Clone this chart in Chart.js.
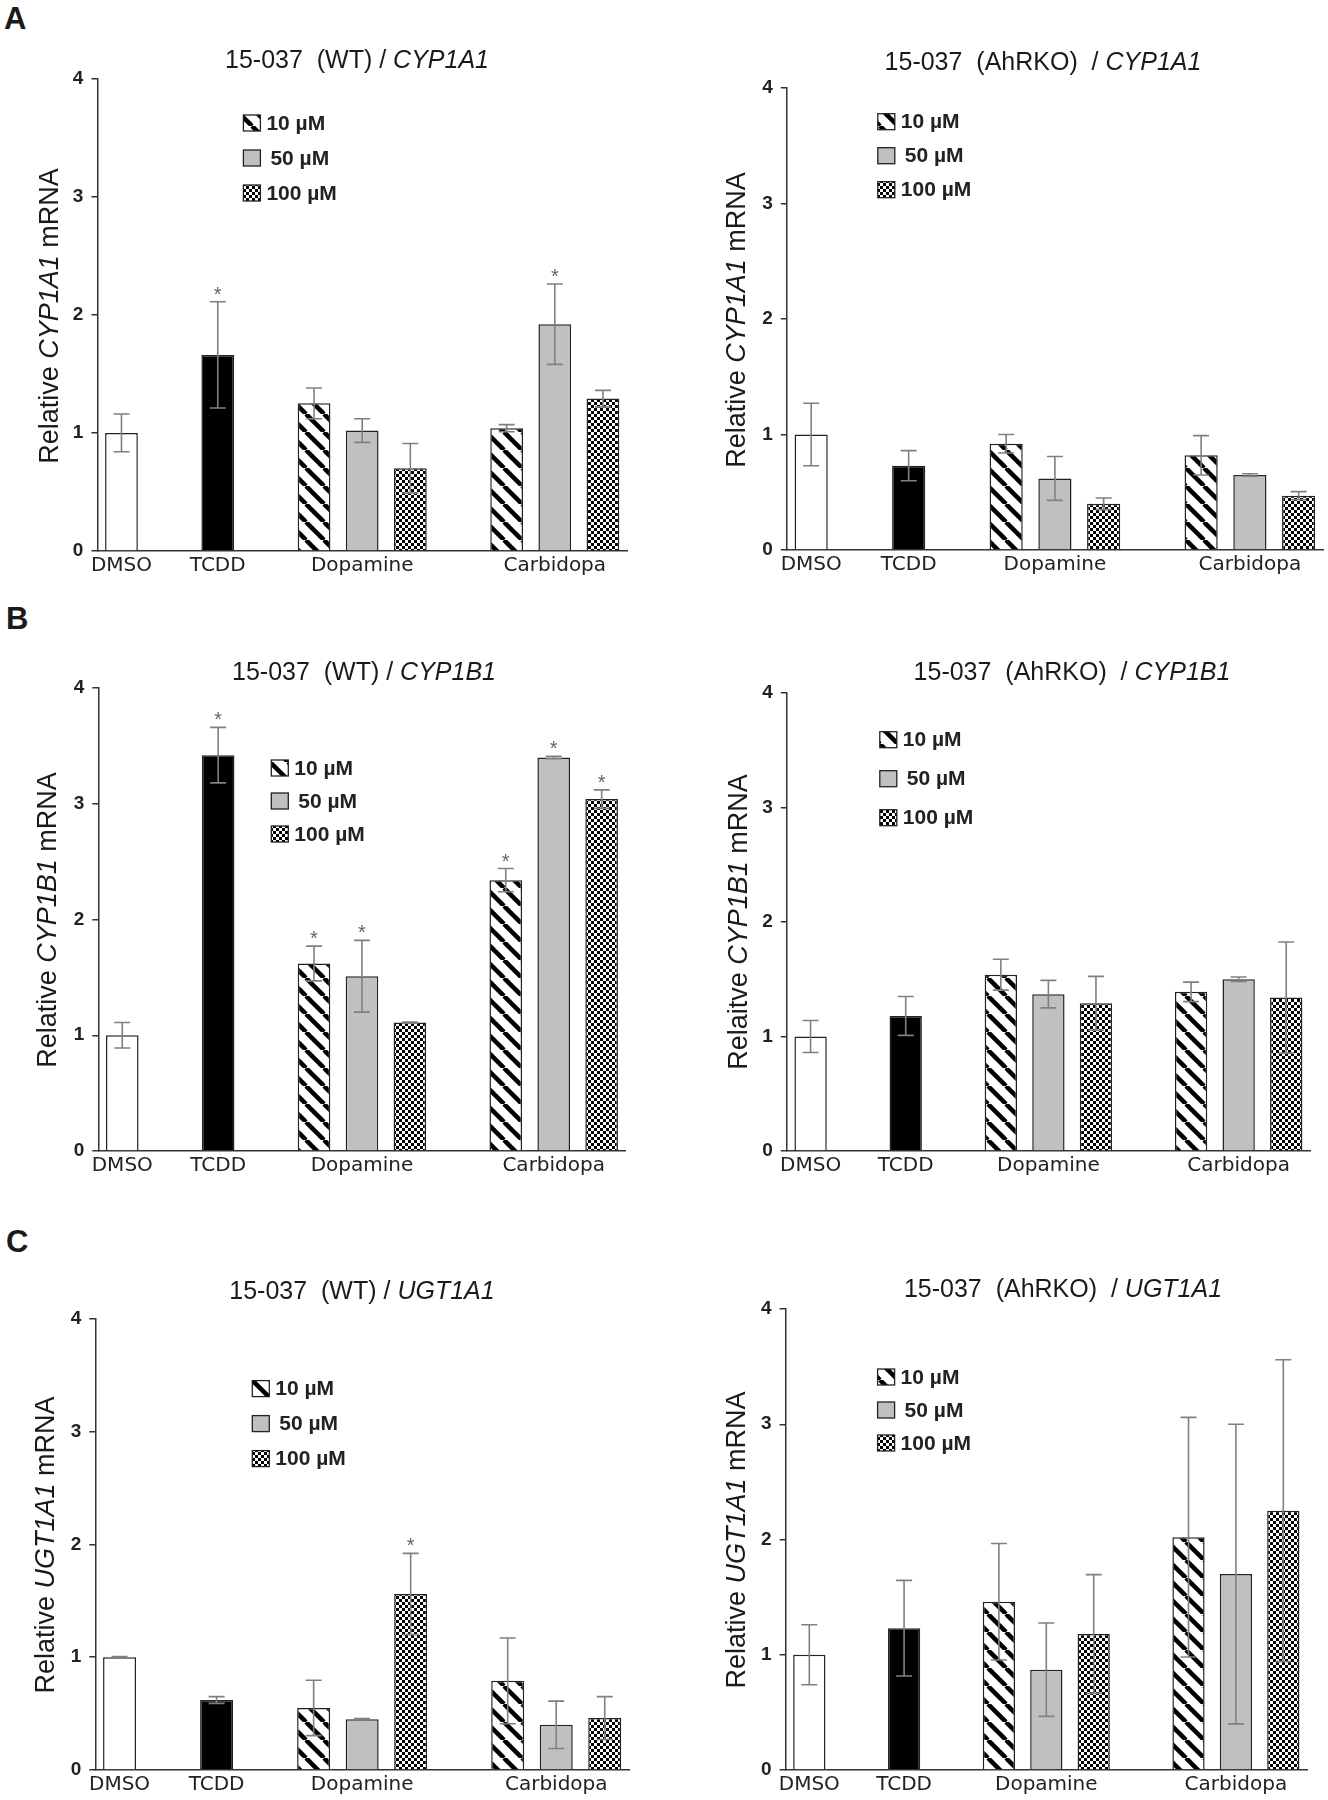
<!DOCTYPE html>
<html><head><meta charset="utf-8">
<script src="https://cdn.jsdelivr.net/npm/chart.js@4.4.1/dist/chart.umd.min.js"></script>
<style>
body{margin:0;background:#fff;}
#fig{position:relative;width:1328px;height:1800px;background:#fff;font-family:Arial,"Liberation Sans",sans-serif;color:#1a1a1a;overflow:hidden}
#fig canvas{position:absolute}
.t{position:absolute;white-space:pre;text-align:center;font-size:25px;line-height:28px;width:600px}
.yt{position:absolute;white-space:pre;text-align:center;font-size:27px;line-height:30px;width:400px;height:30px;transform:rotate(-90deg)}
.pl{position:absolute;font-weight:bold;font-size:31px;line-height:32px}
</style></head><body><div id="fig"></div>
<script>
// ---------------- data ----------------
const groupLabels = ['DMSO', 'TCDD', 'Dopamine', 'Carbidopa'];
const doseLabels = ['10 µM', '50 µM', '100 µM'];
const yTickValues = [0, 1, 2, 3, 4];
// bar order: DMSO, TCDD, Dopamine 10/50/100 µM, Carbidopa 10/50/100 µM
const wtCYP1A1Mean = [1.00, 1.66, 1.25, 1.02, 0.70, 1.04, 1.92, 1.29];
const wtCYP1A1Err  = [0.16, 0.45, 0.13, 0.10, 0.21, 0.03, 0.34, 0.07];
const wtCYP1A1Star = [0, 1, 0, 0, 0, 0, 1, 0];

const koCYP1A1Mean = [1.00, 0.73, 0.92, 0.62, 0.40, 0.82, 0.65, 0.47];
const koCYP1A1Err  = [0.27, 0.13, 0.08, 0.19, 0.05, 0.17, 0.01, 0.035];
const koCYP1A1Star = [0, 0, 0, 0, 0, 0, 0, 0];

const wtCYP1B1Mean = [1.00, 3.42, 1.62, 1.51, 1.11, 2.34, 3.40, 3.04];
const wtCYP1B1Err  = [0.11, 0.24, 0.15, 0.31, 0.005, 0.10, 0.01, 0.08];
const wtCYP1B1Star = [0, 1, 1, 1, 0, 1, 1, 1];

const koCYP1B1Mean = [1.00, 1.18, 1.54, 1.37, 1.29, 1.39, 1.50, 1.34];
const koCYP1B1Err  = [0.14, 0.17, 0.135, 0.12, 0.235, 0.085, 0.02, 0.485];
const koCYP1B1Star = [0, 0, 0, 0, 0, 0, 0, 0];

const wtUGT1A1Mean = [1.00, 0.62, 0.55, 0.45, 1.56, 0.79, 0.40, 0.46];
const wtUGT1A1Err  = [0.005, 0.03, 0.245, 0.005, 0.36, 0.38, 0.21, 0.19];
const wtUGT1A1Star = [0, 0, 0, 0, 1, 0, 0, 0];

const koUGT1A1Mean = [1.00, 1.23, 1.46, 0.87, 1.18, 2.02, 1.70, 2.25];
const koUGT1A1Err  = [0.26, 0.415, 0.505, 0.405, 0.515, 1.04, 1.30, 1.31];
const koUGT1A1Star = [0, 0, 0, 0, 0, 0, 0, 0];

// ---------------- layout ----------------
const SLOT_COUNT = 11;
const barSlots = [0, 2, 4, 5, 6, 8, 9, 10];
const labelSlots = [0, 2, 5, 9];
const xLabels = Array.from({length: SLOT_COUNT}, (_, i) => {
  const k = labelSlots.indexOf(i);
  return k >= 0 ? groupLabels[k] : '';
});

function makePattern(kind) {
  const c = document.createElement('canvas');
  const g = c.getContext('2d');
  if (kind === 'hatch') {
    const s = 18;
    c.width = s; c.height = s;
    g.fillStyle = '#fff'; g.fillRect(0, 0, s, s);
    g.strokeStyle = '#000'; g.lineWidth = 4.5;
    for (const x0 of [-s, 0, s]) {
      g.beginPath(); g.moveTo(x0, 0); g.lineTo(x0 + s, s); g.stroke();
    }
  } else if (kind === 'gray') {
    c.width = 4; c.height = 4;
    g.fillStyle = '#c0c0c0'; g.fillRect(0, 0, 4, 4);
  } else {
    const q = 3;
    c.width = 2 * q; c.height = 2 * q;
    g.fillStyle = '#fff'; g.fillRect(0, 0, 2 * q, 2 * q);
    g.fillStyle = '#000';
    g.fillRect(0, 0, q, q); g.fillRect(q, q, q, q);
  }
  return g.createPattern(c, 'repeat');
}
const dosePatterns = [makePattern('hatch'), makePattern('gray'), makePattern('check')];

const panels = [
  {mean: wtCYP1A1Mean, err: wtCYP1A1Err, star: wtCYP1A1Star, left: 0, top: 0,
   pad: {left: 57.4, right: 37, top: 78.5, bottom: 21}, leg: {x: 146, y: 44.5, dy: 35},
   title: ['15-037  (WT) / ', 'CYP1A1'], tc: [357, 59], ylab: 'CYP1A1', yword: 'Relative', yc: [49, 316]},
  {mean: koCYP1A1Mean, err: koCYP1A1Err, star: koCYP1A1Star, left: 664, top: 0,
   pad: {left: 82.8, right: 5, top: 88, bottom: 22}, leg: {x: 91, y: 33.7, dy: 34},
   title: ['15-037  (AhRKO)  / ', 'CYP1A1'], tc: [1043, 61], ylab: 'CYP1A1', yword: 'Relative', yc: [736, 320]},
  {mean: wtCYP1B1Mean, err: wtCYP1B1Err, star: wtCYP1B1Star, left: 0, top: 600,
   pad: {left: 58.3, right: 38.4, top: 88, bottom: 21}, leg: {x: 173, y: 80, dy: 33},
   title: ['15-037  (WT) / ', 'CYP1B1'], tc: [364, 671], ylab: 'CYP1B1', yword: 'Relative', yc: [47, 920]},
  {mean: koCYP1B1Mean, err: koCYP1B1Err, star: koCYP1B1Star, left: 664, top: 600,
   pad: {left: 82.8, right: 18, top: 93, bottom: 21}, leg: {x: 93, y: 46.7, dy: 39},
   title: ['15-037  (AhRKO)  / ', 'CYP1B1'], tc: [1072, 671], ylab: 'CYP1B1', yword: 'Relaitve', yc: [738, 922]},
  {mean: wtUGT1A1Mean, err: wtUGT1A1Err, star: wtUGT1A1Star, left: 0, top: 1200,
   pad: {left: 55.3, right: 35, top: 118.6, bottom: 2}, leg: {x: 157, y: 70, dy: 35},
   title: ['15-037  (WT) / ', 'UGT1A1'], tc: [362, 1290], ylab: 'UGT1A1', yword: 'Relative', yc: [45, 1545]},
  {mean: koUGT1A1Mean, err: koUGT1A1Err, star: koUGT1A1Star, left: 664, top: 1200,
   pad: {left: 81.6, right: 21, top: 109, bottom: 2}, leg: {x: 92, y: 68, dy: 33},
   title: ['15-037  (AhRKO)  / ', 'UGT1A1'], tc: [1063, 1288], ylab: 'UGT1A1', yword: 'Relative', yc: [736, 1540]}
];

const fig = document.getElementById('fig');
[['A', 4, 3], ['B', 6, 603], ['C', 6, 1226]].forEach(([t, x, y]) => {
  const d = document.createElement('div'); d.className = 'pl';
  d.style.left = x + 'px'; d.style.top = y + 'px'; d.textContent = t; fig.appendChild(d);
});

const errPlugin = {
  id: 'errbars',
  afterDatasetsDraw(chart) {
    const ctx = chart.ctx, ys = chart.scales.y;
    chart.data.datasets.forEach((ds, di) => {
      const meta = chart.getDatasetMeta(di);
      meta.data.forEach((bar, i) => {
        const v = ds.data[i];
        if (v == null) return;
        const e = ds.errors[i];
        const cx = bar.x;
        const yt = ys.getPixelForValue(v + e), yb = ys.getPixelForValue(v - e);
        ctx.save();
        ctx.strokeStyle = '#808080'; ctx.lineWidth = 1.6;
        ctx.beginPath();
        ctx.moveTo(cx, yt); ctx.lineTo(cx, yb);
        ctx.moveTo(cx - 8, yt); ctx.lineTo(cx + 8, yt);
        ctx.moveTo(cx - 8, yb); ctx.lineTo(cx + 8, yb);
        ctx.stroke();
        if (ds.stars[i]) {
          ctx.fillStyle = '#666';
          ctx.font = '20px Arial, "Liberation Sans", sans-serif';
          ctx.textAlign = 'center'; ctx.textBaseline = 'alphabetic';
          ctx.fillText('*', cx, yt - 1);
        }
        ctx.restore();
      });
    });
  }
};

const legendPlugin = {
  id: 'doseLegend',
  afterDraw(chart, args, opts) {
    const ctx = chart.ctx, a = chart.chartArea;
    ctx.save();
    doseLabels.forEach((lab, k) => {
      const bx = a.left + opts.x, cy = a.top + opts.y + k * opts.dy;
      ctx.fillStyle = dosePatterns[k];
      ctx.fillRect(bx, cy - 8, 17, 16);
      ctx.strokeStyle = '#222'; ctx.lineWidth = 1.3;
      ctx.strokeRect(bx, cy - 8, 17, 16);
      ctx.fillStyle = '#222';
      ctx.font = 'bold 21px Arial, "Liberation Sans", sans-serif';
      ctx.textAlign = 'left'; ctx.textBaseline = 'middle';
      ctx.fillText(lab, bx + 23 + (k === 1 ? 4 : 0), cy + 1);
    });
    ctx.restore();
  }
};

panels.forEach(p => {
  const cv = document.createElement('canvas');
  cv.width = 664; cv.height = 600;
  cv.style.left = p.left + 'px'; cv.style.top = p.top + 'px';
  fig.appendChild(cv);

  const t = document.createElement('div'); t.className = 't';
  t.style.left = (p.tc[0] - 300) + 'px'; t.style.top = (p.tc[1] - 14) + 'px';
  t.innerHTML = p.title[0] + '<i>' + p.title[1] + '</i>';
  fig.appendChild(t);

  const yt = document.createElement('div'); yt.className = 'yt';
  yt.style.left = (p.yc[0] - 200) + 'px'; yt.style.top = (p.yc[1] - 15) + 'px';
  yt.innerHTML = p.yword + ' <i>' + p.ylab + '</i> mRNA';
  fig.appendChild(yt);

  const empty = () => Array(SLOT_COUNT).fill(null);
  const ctrl = empty(), ctrlErr = empty(), ctrlStar = empty();
  [0, 1].forEach(b => { ctrl[barSlots[b]] = p.mean[b]; ctrlErr[barSlots[b]] = p.err[b]; ctrlStar[barSlots[b]] = p.star[b]; });
  const datasets = [{
    label: 'Control', data: ctrl, errors: ctrlErr, stars: ctrlStar,
    backgroundColor: ctx => (ctx.dataIndex === barSlots[1] ? '#000' : '#fff')
  }];
  doseLabels.forEach((lab, k) => {
    const d = empty(), e = empty(), s = empty();
    [2 + k, 5 + k].forEach(b => { d[barSlots[b]] = p.mean[b]; e[barSlots[b]] = p.err[b]; s[barSlots[b]] = p.star[b]; });
    datasets.push({label: lab, data: d, errors: e, stars: s, backgroundColor: dosePatterns[k]});
  });

  new Chart(cv.getContext('2d'), {
    type: 'bar',
    data: {labels: xLabels, datasets},
    options: {
      responsive: false, animation: false, devicePixelRatio: 1, events: [],
      layout: {padding: p.pad},
      datasets: {bar: {grouped: false, barPercentage: 0.68, categoryPercentage: 1,
        borderColor: '#222', borderWidth: 1.5}},
      plugins: {legend: {display: false}, tooltip: {enabled: false}, doseLegend: p.leg},
      scales: {
        x: {
          afterFit: s => { s.height = 28; },
          grid: {display: false, drawTicks: false},
          border: {display: true, color: '#333', width: 1.5},
          ticks: {autoSkip: false, maxRotation: 0, minRotation: 0, padding: 3,
            color: '#222', font: {size: 20, family: '"DejaVu Sans", Arial, sans-serif'},
            callback: (v, i) => xLabels[i]}
        },
        y: {
          min: 0, max: 4,
          afterFit: s => { s.width = 40; },
          afterBuildTicks: s => { s.ticks = yTickValues.map(v => ({value: v})); },
          grid: {display: true, drawOnChartArea: false, drawTicks: true, tickLength: 6, color: '#333', lineWidth: 1.5},
          border: {display: true, color: '#333', width: 1.5},
          ticks: {padding: 8, color: '#222', font: {size: 19, weight: 'bold', family: 'Arial, "Liberation Sans", sans-serif'}}
        }
      }
    },
    plugins: [errPlugin, legendPlugin]
  });
});
</script></body></html>
